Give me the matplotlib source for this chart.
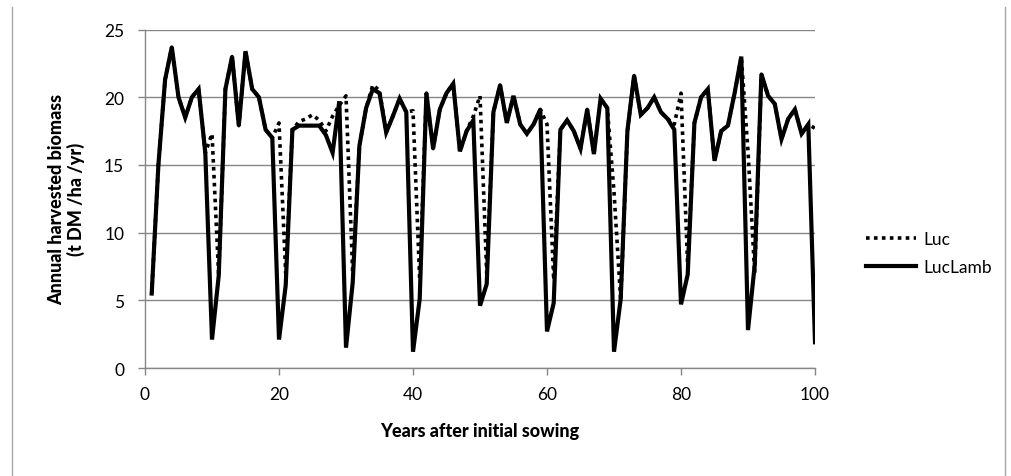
import matplotlib
matplotlib.use('Agg')
from matplotlib import pyplot as plt
from matplotlib.lines import Line2D

plt.rcParams['font.family'] = ['Lato', 'DejaVu Sans']

years = list(range(1, 101))

# LucLamb (solid)
luclamb = [5.5, 15.0, 21.3, 23.7, 20.0, 18.5, 20.0, 20.6, 15.9, 2.1,
           6.8, 20.6, 23.0, 17.9, 23.4, 20.6, 20.0, 17.6, 17.0, 2.1,
           6.1, 17.6, 17.9, 17.9, 17.9, 17.9, 17.2, 15.9, 19.7, 1.5,
           6.3, 16.4, 19.2, 20.6, 20.3, 17.4, 18.6, 19.9, 18.9, 1.2,
           5.1, 20.3, 16.2, 19.1, 20.3, 21.0, 16.0, 17.5, 18.3, 4.6,
           6.2, 18.9, 20.9, 18.1, 20.1, 18.0, 17.3, 18.0, 19.1, 2.7,
           4.8, 17.6, 18.3, 17.5, 16.2, 19.1, 15.8, 19.9, 19.2, 1.2,
           5.1, 17.5, 21.6, 18.7, 19.2, 20.0, 18.9, 18.4, 17.6, 4.7,
           6.9, 18.1, 20.0, 20.6, 15.3, 17.5, 17.9, 20.3, 23.0, 2.8,
           7.6, 21.7, 20.1, 19.5, 16.9, 18.4, 19.1, 17.3, 18.0, 1.9]

# Luc (dotted)
luc = [5.5, 15.0, 21.3, 23.7, 20.0, 18.5, 20.0, 20.6, 15.9, 17.3,
       6.8, 20.6, 23.0, 17.9, 23.4, 20.6, 20.0, 17.6, 17.0, 18.1,
       7.0, 17.6, 18.2, 18.4, 18.7, 18.3, 17.5, 18.6, 19.4, 20.1,
       7.0, 16.4, 19.2, 20.9, 20.5, 17.4, 18.6, 19.9, 18.9, 19.0,
       6.5, 20.3, 16.2, 19.1, 20.3, 21.0, 16.0, 17.5, 18.6, 20.1,
       7.0, 18.9, 20.9, 18.1, 20.1, 18.0, 17.3, 18.0, 19.1, 18.0,
       6.5, 17.6, 18.3, 17.5, 16.2, 19.1, 15.8, 19.9, 19.2, 13.0,
       5.0, 17.5, 21.6, 18.7, 19.2, 20.0, 18.9, 18.4, 18.0, 20.3,
       7.5, 18.1, 20.0, 20.6, 15.3, 17.5, 17.9, 20.3, 23.0, 16.0,
       7.0, 21.7, 20.1, 19.5, 16.9, 18.4, 19.1, 17.3, 18.0, 17.7]

fig = plt.figure(figsize=(10.11, 4.77), dpi=100)
ax = fig.add_axes([145 / 1011, 1 - 369 / 477, 670 / 1011, 338.5 / 477])

# chart area border (left and right edges visible)
fig.add_artist(Line2D([12 / 1011, 12 / 1011], [0, 1 - 8 / 477], color='#a6a6a6', lw=1))
fig.add_artist(Line2D([1005 / 1011, 1005 / 1011], [0, 1 - 8 / 477], color='#a6a6a6', lw=1))

ax.plot(years, luc, color='black', lw=2.6, linestyle=(0, (1, 1.2)), label='Luc')
ax.plot(years, luclamb, color='black', lw=3.0, label='LucLamb', solid_joinstyle='miter')

ax.set_xlim(0, 100)
ax.set_ylim(0, 25)
ax.set_xticks(range(0, 101, 20))
ax.set_yticks(range(0, 26, 5))
ax.yaxis.grid(True, color='#868686', lw=1)
ax.set_axisbelow(True)
for s in ['top', 'right']:
    ax.spines[s].set_visible(False)
for s in ['left', 'bottom']:
    ax.spines[s].set_color('#868686')
    ax.spines[s].set_linewidth(1)
ax.tick_params(axis='both', colors='#868686', labelcolor='black', labelsize=12.5, length=5, width=1)
ax.tick_params(axis='y', pad=10)
ax.tick_params(axis='x', pad=8)

ax.set_xlabel('Years after initial sowing', fontsize=13, fontweight='black', labelpad=14)
ax.set_ylabel('Annual harvested biomass\n(t DM /ha /yr)', fontsize=13, fontweight='black',
              labelpad=14, linespacing=1.1)

fig.legend(loc='center left', bbox_to_anchor=(850 / 1011, 1 - 254 / 477), frameon=False,
           fontsize=12.5, handlelength=2.9, labelspacing=0.7, handletextpad=0.4)

fig.savefig('out.png', dpi=100)
